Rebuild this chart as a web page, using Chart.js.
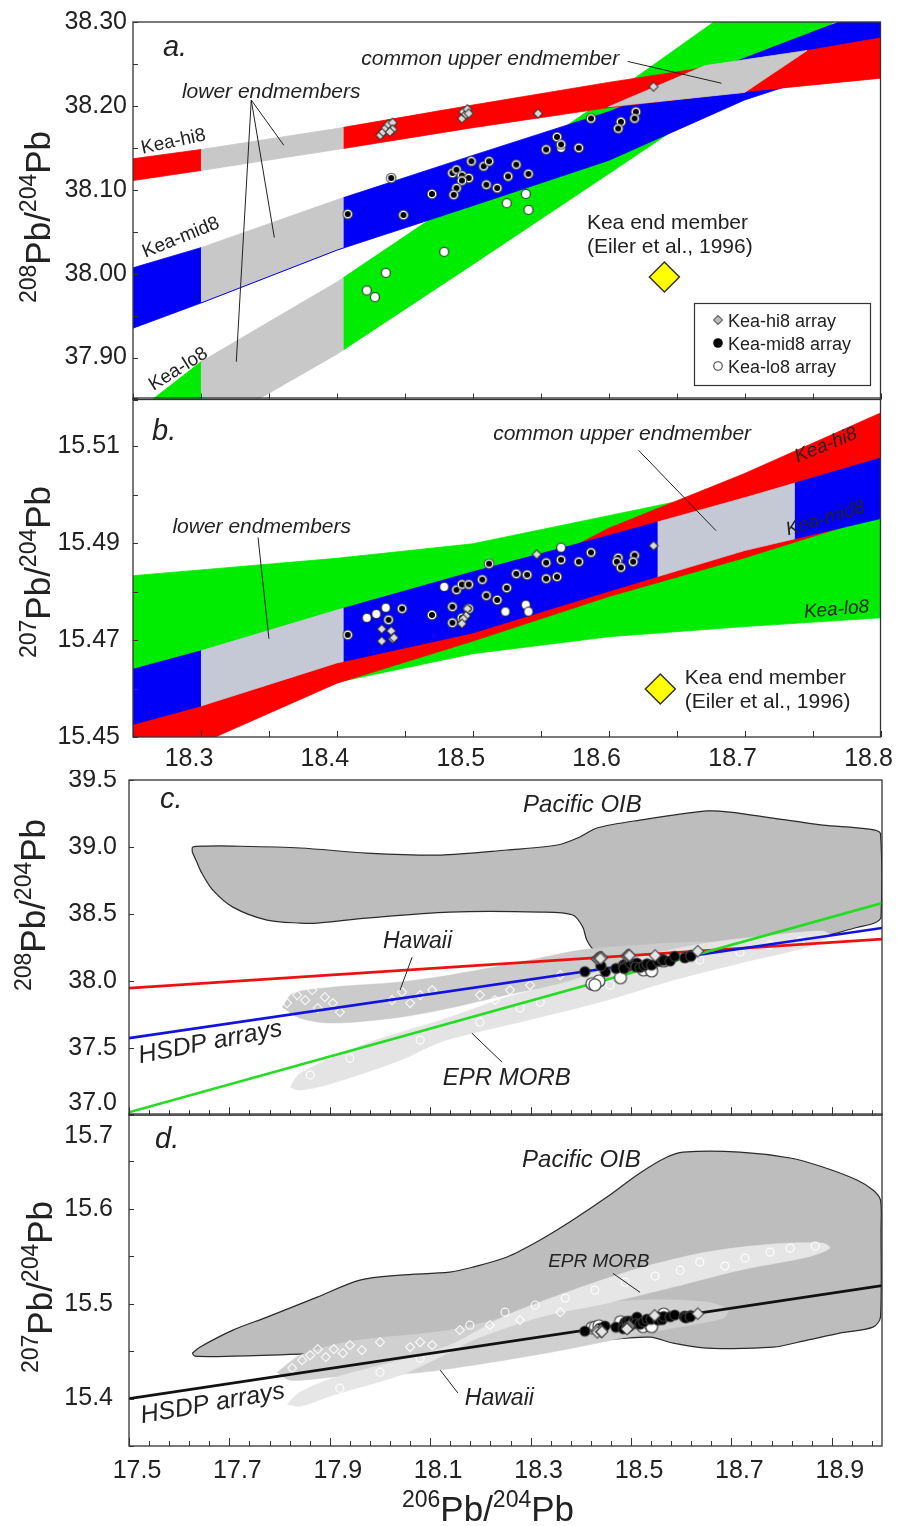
<!DOCTYPE html>
<html>
<head>
<meta charset="utf-8">
<script src="https://cdn.jsdelivr.net/npm/chart.js@4.4.1/dist/chart.umd.min.js"></script>
<style>
  html, body { margin: 0; padding: 0; background: #fff; }
  body { position: relative; width: 897px; height: 1526px; overflow: hidden; }
  canvas { position: absolute; left: 0; }
</style>
</head>
<body>
<canvas id="pa" width="897" height="416" style="top:0px"></canvas>
<canvas id="pb" width="897" height="402" style="top:378px"></canvas>
<canvas id="pc" width="897" height="358" style="top:770px"></canvas>
<canvas id="pd" width="897" height="422" style="top:1104px"></canvas>
<script>
// ---- regression bands of the three HSDP Kea arrays (panels a, b) ----
const bandX = [18.25, 18.30, 18.40, 18.50, 18.60, 18.70, 18.80];

const hi8Up208  = [38.137, 38.148, 38.173, 38.201, 38.228, 38.253, 38.281];
const hi8Lo208  = [38.111, 38.123, 38.148, 38.174, 38.198, 38.217, 38.233];
const mid8Up208 = [38.007, 38.031, 38.088, 38.141, 38.193, 38.257, 38.319];
const mid8Lo208 = [37.935, 37.965, 38.028, 38.081, 38.135, 38.207, 38.260];
const lo8Up208  = [37.832, 37.895, 37.990, 38.099, 38.211, 38.326, 38.440];
const lo8Lo208  = [37.761, 37.811, 37.904, 38.011, 38.119, 38.228, 38.337];

const hi8Up207  = [15.4535, 15.4572, 15.4670, 15.4785, 15.4931, 15.5044, 15.5169];
const hi8Lo207  = [15.4425, 15.4487, 15.4611, 15.4698, 15.4790, 15.4870, 15.4958];
const mid8Up207 = [15.4640, 15.4678, 15.4762, 15.4841, 15.4916, 15.4994, 15.5076];
const mid8Lo207 = [15.4526, 15.4564, 15.4653, 15.4715, 15.4801, 15.4885, 15.4951];
const lo8Up207  = [15.4833, 15.4845, 15.4869, 15.4899, 15.4957, 15.5015, 15.5085];
const lo8Lo207  = [15.4510, 15.4550, 15.4613, 15.4672, 15.4707, 15.4728, 15.4746];

// x ranges of the endmember segments
const lowerEndX = [18.30, 18.405];
const upperEndX207 = [18.636, 18.737];
const upperEnd208 = [[18.600, 38.199], [18.671, 38.248], [18.746, 38.266], [18.700, 38.216]];

// Kea end member (Eiler et al., 1996)
const keaEnd208 = [[18.641, 37.996]];
const keaEnd207 = [[18.638, 15.4599]];

// ---- HSDP samples: [206Pb/204Pb, 208Pb/204Pb] and [206Pb/204Pb, 207Pb/204Pb] ----
const hi8Pb208 = [[18.432,38.165],[18.434,38.169],[18.436,38.174],[18.438,38.178],[18.441,38.180],[18.441,38.172],[18.439,38.169],
  [18.492,38.185],[18.493,38.193],[18.495,38.190],[18.496,38.196],[18.497,38.191],[18.548,38.191],[18.633,38.223]];
const mid8Pb208 = [[18.408,38.071],[18.449,38.070],[18.440,38.114],[18.470,38.095],[18.485,38.120],[18.488,38.124],[18.492,38.117],
  [18.497,38.114],[18.492,38.111],[18.488,38.102],[18.486,38.094],[18.499,38.134],[18.508,38.128],[18.512,38.134],[18.510,38.106],
  [18.518,38.102],[18.526,38.116],[18.532,38.130],[18.541,38.119],[18.554,38.148],[18.562,38.163],[18.565,38.154],[18.578,38.150],
  [18.587,38.185],[18.609,38.181],[18.607,38.173],[18.620,38.193],[18.619,38.185]];
const lo8Pb208 = [[18.479,38.026],[18.436,38.001],[18.422,37.980],[18.428,37.972],[18.525,38.084],[18.539,38.095],[18.541,38.076],[18.565,38.150]];

const hi8Pb207 = [[18.433,15.4723],[18.440,15.4719],[18.433,15.4698],[18.441,15.4703],[18.442,15.4705],[18.496,15.4765],[18.495,15.4750],
  [18.493,15.4744],[18.492,15.4734],[18.547,15.4877],[18.633,15.4895]];
const mid8Pb207 = [[18.408,15.4711],[18.438,15.4742],[18.448,15.4765],[18.470,15.4752],[18.485,15.4769],[18.488,15.4804],[18.492,15.4815],
  [18.497,15.4815],[18.485,15.4736],[18.492,15.4746],[18.497,15.4765],[18.507,15.4825],[18.512,15.4858],[18.510,15.4792],[18.518,15.4783],
  [18.525,15.4808],[18.532,15.4837],[18.540,15.4835],[18.554,15.4860],[18.554,15.4827],[18.562,15.4831],[18.565,15.4866],[18.578,15.4862],
  [18.587,15.4881],[18.607,15.4870],[18.606,15.4862],[18.609,15.4850],[18.619,15.4875],[18.618,15.4862]];
const lo8Pb207 = [[18.422,15.4746],[18.429,15.4754],[18.436,15.4767],[18.479,15.4810],[18.524,15.4759],[18.539,15.4773],[18.541,15.4759],[18.565,15.4891]];

// ---- HSDP array lines (panels c, d) ----
const hsdpX = [17.5, 19.0];
const hsdpHi208 = [37.948, 38.313];
const hsdpMid208 = [37.575, 38.396];
const hsdpLo208 = [37.022, 38.582];
const hsdp207 = [15.400, 15.519];

// ---- reference fields ----
const oib208 = [[17.626,38.963],[17.627,39.000],[17.655,39.007],[17.707,39.007],[17.841,38.993],[17.974,38.955],[18.120,38.940],
  [18.253,38.978],[18.353,39.015],[18.398,39.075],[18.432,39.142],[18.518,39.201],[18.651,39.269],[18.697,39.261],[18.783,39.216],
  [18.882,39.164],[18.970,39.136],[18.997,39.100],[18.998,38.478],[18.985,38.433],[18.950,38.400],[18.880,38.330],[18.837,38.300],
  [18.677,38.260],[18.518,38.220],[18.428,38.231],[18.412,38.306],[18.404,38.403],[18.384,38.493],[18.319,38.515],[18.139,38.515],
  [17.974,38.470],[17.875,38.433],[17.841,38.433],[17.775,38.455],[17.707,38.552],[17.667,38.679],[17.645,38.806],[17.635,38.888]];
const hawaii208 = [[17.805,37.806],[17.827,37.910],[17.906,37.955],[18.040,37.993],[18.139,38.045],[18.279,38.142],[18.398,38.231],
  [18.518,38.269],[18.637,38.291],[18.727,38.276],[18.733,38.216],[18.637,38.142],[18.518,38.067],[18.398,37.993],[18.279,37.918],
  [18.139,37.799],[18.040,37.731],[17.906,37.687],[17.841,37.724]];
const epr208 = [[17.821,37.209],[17.841,37.313],[17.974,37.537],[18.139,37.731],[18.253,37.881],[18.384,38.007],[18.518,38.179],
  [18.651,38.284],[18.783,38.343],[18.882,38.373],[18.896,38.336],[18.851,38.254],[18.717,38.134],[18.584,38.007],[18.452,37.858],
  [18.319,37.731],[18.185,37.612],[18.120,37.545],[18.040,37.410],[17.906,37.239],[17.841,37.187]];
const hawaiiPts208 = [[17.815,37.836],[17.835,37.896],[17.851,37.858],[17.865,37.933],[17.876,37.799],[17.890,37.881],[17.906,37.836],
  [17.920,37.769],[18.024,37.858],[18.044,37.918],[18.060,37.836],[18.080,37.896],[18.104,37.933],[18.199,37.896],[18.229,37.858],
  [18.259,37.933],[18.299,37.970],[18.359,38.045]];
const eprPts208 = [[17.861,37.299],[17.940,37.425],[18.080,37.560],[18.199,37.694],[18.279,37.799],[18.319,37.843],[18.458,37.970],
  [18.538,38.067],[18.637,38.157],[18.717,38.216],[18.777,38.269],[18.837,38.299]];

const oib207 = [[17.626,15.4479],[17.641,15.4542],[17.707,15.4722],[17.775,15.4859],[17.875,15.5070],[17.960,15.5249],[18.040,15.5302],
  [18.139,15.5333],[18.185,15.5386],[18.253,15.5492],[18.319,15.5671],[18.384,15.5882],[18.452,15.6124],[18.518,15.6378],[18.572,15.6546],
  [18.604,15.6599],[18.717,15.6599],[18.817,15.6536],[18.882,15.6441],[18.950,15.6304],[18.982,15.6198],[18.997,15.6093],[18.998,15.5776],
  [18.997,15.4859],[18.982,15.4753],[18.916,15.4690],[18.851,15.4616],[18.783,15.4542],[18.651,15.4532],[18.584,15.4584],[18.538,15.4648],
  [18.438,15.4616],[18.239,15.4563],[18.040,15.4511],[17.841,15.4468],[17.707,15.4447],[17.631,15.4447]];
const hawaii207 = [[17.795,15.4278],[17.841,15.4458],[17.906,15.4563],[17.974,15.4627],[18.074,15.4679],[18.139,15.4722],[18.319,15.4932],
  [18.518,15.5038],[18.651,15.5017],[18.693,15.4932],[18.683,15.4848],[18.584,15.4743],[18.452,15.4605],[18.319,15.4468],[18.120,15.4300],
  [18.040,15.4257],[17.906,15.4226],[17.821,15.4194]];
const epr207 = [[17.815,15.3941],[17.841,15.4068],[17.906,15.4215],[18.040,15.4405],[18.139,15.4563],[18.253,15.4880],[18.384,15.5143],
  [18.518,15.5376],[18.651,15.5544],[18.783,15.5629],[18.882,15.5639],[18.896,15.5586],[18.851,15.5492],[18.717,15.5354],[18.584,15.5175],
  [18.452,15.5006],[18.319,15.4859],[18.185,15.4616],[18.139,15.4489],[18.040,15.4247],[17.906,15.4036],[17.841,15.3920]];
const hawaiiPts207 = [[17.825,15.4321],[17.845,15.4405],[17.861,15.4458],[17.876,15.4521],[17.892,15.4437],[17.908,15.4521],[17.926,15.4479],
  [17.940,15.4563],[17.964,15.4511],[18.000,15.4595],[18.060,15.4542],[18.080,15.4595],[18.104,15.4563],[18.159,15.4722],[18.219,15.4774],
  [18.279,15.4827],[18.359,15.4911]];
const eprPts207 = [[17.920,15.4110],[18.000,15.4278],[18.080,15.4426],[18.179,15.4774],[18.249,15.4911],[18.309,15.4985],[18.369,15.5059],
  [18.428,15.5143],[18.488,15.5228],[18.548,15.5291],[18.598,15.5354],[18.637,15.5439],[18.687,15.5397],[18.727,15.5481],[18.777,15.5544],
  [18.817,15.5586],[18.867,15.5608]];

// ---- axis ticks and labels ----
const xTicksAB = [18.25, 18.30, 18.35, 18.40, 18.45, 18.50, 18.55, 18.60, 18.65, 18.70, 18.75, 18.80];
const xLabelsAB = [18.3, 18.4, 18.5, 18.6, 18.7, 18.8];
const yTicksA = [37.85, 37.90, 37.95, 38.00, 38.05, 38.10, 38.15, 38.20, 38.25, 38.30];
const yLabelsA = [37.90, 38.00, 38.10, 38.20, 38.30];
const yTicksB = [15.45, 15.46, 15.47, 15.48, 15.49, 15.50, 15.51, 15.52];
const yLabelsB = [15.45, 15.47, 15.49, 15.51];
const xTicksCD = Array.from({length: 38}, (_, i) => +(17.5 + 0.04 * i).toFixed(2));
const xLabelsCD = [17.5, 17.7, 17.9, 18.1, 18.3, 18.5, 18.7, 18.9];
const yTicksC = [37.0, 37.5, 38.0, 38.5, 39.0, 39.5];
const yLabelsC = [37.5, 38.0, 38.5, 39.0, 39.5];
const yTicksD = [15.35, 15.40, 15.45, 15.50, 15.55, 15.60, 15.65, 15.70];
const yLabelsD = [15.4, 15.5, 15.6];

const FONT = '"Liberation Sans", Arial, Helvetica, sans-serif';
const INK = '#222';
const RED = '#ff0000', BLUE = '#0000f8', GREEN = '#00ec00';
const GRAY_A = '#c8c8c8', GRAY_B = '#c5c8d5';

// ---- helpers ----
const pts = arr => arr.map(([x, y]) => ({x, y}));
const closed = arr => pts([...arr, arr[0]]);
const zip = (xs, ys) => xs.map((x, i) => ({x, y: ys[i]}));
const has = (list, v) => list.some(l => Math.abs(l - v) < 1e-6);

function interp(xs, ys, x) {
  for (let i = 0; i < xs.length - 2; i++) {
    if (x <= xs[i + 1]) return ys[i] + (x - xs[i]) / (xs[i + 1] - xs[i]) * (ys[i + 1] - ys[i]);
  }
  const n = xs.length - 1;
  return ys[n - 1] + (x - xs[n - 1]) / (xs[n] - xs[n - 1]) * (ys[n] - ys[n - 1]);
}
function bandPoly(up, lo, x0, x1) {
  const xs = [x0, ...bandX.filter(x => x > x0 + 1e-9 && x < x1 - 1e-9), x1];
  return [...xs.map(x => ({x, y: interp(bandX, up, x)})),
          ...xs.slice().reverse().map(x => ({x, y: interp(bandX, lo, x)}))];
}
function edge(ys, x0, x1) {
  const xs = [x0, ...bandX.filter(x => x > x0 && x < x1), x1];
  return xs.map(x => ({x, y: interp(bandX, ys, x)}));
}
function area(points, color, stroke, width, tension) {
  return {data: points, showLine: true, fill: 'shape', backgroundColor: color,
    borderColor: stroke || color, borderWidth: width || 0.8, pointRadius: 0, tension: tension || 0};
}
function trace(points, color, width) {
  return {data: points, showLine: true, fill: false, borderColor: color, borderWidth: width, pointRadius: 0};
}
function dots(arr, style, extra) {
  return Object.assign({data: pts(arr), showLine: false, pointStyle: style, pointRadius: 6, pointHoverRadius: 6}, extra || {});
}
function layered(list) {
  list.forEach((d, i) => { d.order = list.length - i; });
  return list;
}

// symbol sprites
function sprite(size, draw) {
  const c = document.createElement('canvas');
  c.width = c.height = size;
  const g = c.getContext('2d');
  g.translate(size / 2, size / 2);
  draw(g);
  return c;
}
function disc(g, r, color) { g.beginPath(); g.arc(0, 0, r, 0, Math.PI * 2); g.fillStyle = color; g.fill(); }
function diamond(g, r, color) {
  g.beginPath(); g.moveTo(-r, 0); g.lineTo(0, -r); g.lineTo(r, 0); g.lineTo(0, r); g.closePath();
  g.fillStyle = color; g.fill();
}
const midSmall = sprite(12, g => { disc(g, 5.3, '#4a4a4a'); disc(g, 4.3, '#fff'); disc(g, 3.0, '#000'); });
const loSmall  = sprite(12, g => { disc(g, 5.0, '#333'); disc(g, 3.9, '#fff'); });
const hiSmall  = sprite(12, g => { diamond(g, 5.2, '#333'); diamond(g, 3.8, '#dadada'); });
const midLarge = sprite(14, g => { disc(g, 5.6, '#444'); disc(g, 4.6, '#000'); });
const loLarge  = sprite(16, g => { disc(g, 6.6, '#444'); disc(g, 5.4, '#fff'); });
const hiLarge  = sprite(16, g => { diamond(g, 6.6, '#444'); diamond(g, 5.0, '#e4e4e4'); });
const hiKey  = sprite(12, g => { diamond(g, 5.2, '#555'); diamond(g, 3.8, '#bbb'); });
const midKey = sprite(12, g => { disc(g, 4.8, '#000'); });
const loKey  = sprite(12, g => { disc(g, 4.8, '#444'); disc(g, 3.7, '#fff'); });

// Pb isotope ratio title with superscript mass numbers
function isoTitle(ctx, iso, cx, cy, vertical) {
  const parts = [[iso, 23, -14], ['Pb', 35, 0], ['/', 35, 0], ['204', 23, -14], ['Pb', 35, 0]];
  let w = 0;
  parts.forEach(p => { ctx.font = p[1] + 'px ' + FONT; p.push(ctx.measureText(p[0]).width); w += p[3]; });
  ctx.save();
  ctx.translate(cx, cy);
  if (vertical) ctx.rotate(-Math.PI / 2);
  ctx.fillStyle = INK; ctx.textAlign = 'left'; ctx.textBaseline = 'alphabetic';
  let pos = -w / 2;
  parts.forEach(p => { ctx.font = p[1] + 'px ' + FONT; ctx.fillText(p[0], pos, p[2]); pos += p[3]; });
  ctx.restore();
}

function drawKey(ctx, L) {
  ctx.fillStyle = '#fff'; ctx.fillRect(L.x, L.y, L.w, L.h);
  ctx.strokeStyle = '#333'; ctx.lineWidth = 1.2; ctx.strokeRect(L.x + 0.5, L.y + 0.5, L.w, L.h);
  ctx.font = '18px ' + FONT; ctx.fillStyle = INK; ctx.textAlign = 'left'; ctx.textBaseline = 'alphabetic';
  L.items.forEach(([img, label], i) => {
    const cy = L.y + 17 + i * 23;
    ctx.drawImage(img, L.x + 24 - img.width / 2, cy - img.height / 2);
    ctx.fillText(label, L.x + 34, cy + 7);
  });
}

// frame, inward ticks, labels, leader lines, titles
function decor(d) {
  return {
    id: 'decor',
    afterDraw(chart) {
      const {ctx, chartArea: a, scales: {x, y}} = chart;
      const X = v => x.getPixelForValue(v), Y = v => y.getPixelForValue(v);
      ctx.save();
      ctx.strokeStyle = '#333'; ctx.lineWidth = 1;
      ctx.beginPath();
      d.xTicks.forEach(([v, len]) => { const p = Math.round(X(v)) + 0.5; ctx.moveTo(p, a.bottom); ctx.lineTo(p, a.bottom - len); });
      d.yTicks.forEach(([v, len]) => { const p = Math.round(Y(v)) + 0.5; ctx.moveTo(a.left, p); ctx.lineTo(a.left + len, p); });
      ctx.stroke();
      ctx.lineWidth = 1.3;
      ctx.strokeRect(a.left, a.top, a.width, a.height);
      ctx.lineWidth = 1; ctx.strokeStyle = '#222';
      ctx.beginPath();
      (d.leaders || []).forEach(([x1, y1, x2, y2]) => { ctx.moveTo(X(x1), Y(y1)); ctx.lineTo(X(x2), Y(y2)); });
      ctx.stroke();
      (d.texts || []).forEach(t => {
        ctx.save();
        ctx.translate(X(t.x) + (t.dx || 0), Y(t.y) + (t.dy || 0));
        ctx.rotate(-(t.rot || 0) * Math.PI / 180);
        ctx.font = t.font + ' ' + FONT;
        ctx.fillStyle = t.color || INK;
        ctx.textAlign = t.align || 'left';
        ctx.textBaseline = t.base || 'alphabetic';
        ctx.fillText(t.t, 0, 0);
        ctx.restore();
      });
      if (d.key) drawKey(ctx, d.key);
      if (d.yTitle) isoTitle(ctx, d.yTitle[0], d.yTitle[1], d.yTitle[2], true);
      if (d.xTitle) isoTitle(ctx, d.xTitle[0], d.xTitle[1], d.xTitle[2], false);
      ctx.restore();
    }
  };
}

function makeChart(id, c) {
  const tickOpts = (labels, dec, pad, off) => ({
    font: {family: FONT, size: 25}, color: INK, padding: pad, labelOffset: off || 0,
    autoSkip: false, maxRotation: 0, minRotation: 0,
    callback: v => has(labels, v) ? v.toFixed(dec) : ''
  });
  const chart = new Chart(document.getElementById(id), {
    type: 'scatter',
    data: {datasets: layered(c.layers)},
    options: {
      responsive: false, animation: false, devicePixelRatio: 1, events: [],
      layout: {padding: c.padding},
      plugins: {legend: {display: false}, tooltip: {enabled: false}},
      scales: {
        x: {type: 'linear', position: 'bottom', min: c.x[0], max: c.x[1], display: c.xShow,
          grid: {display: false, drawTicks: false}, border: {display: false},
          afterBuildTicks: s => { s.ticks = c.xTicks.map(v => ({value: v})); },
          afterFit: s => { s.height = c.xHeight; s.paddingLeft = 0; s.paddingRight = 0; },
          ticks: tickOpts(c.xLabels, 1, c.xPad, c.xOff)},
        y: {type: 'linear', position: 'left', min: c.y[0], max: c.y[1],
          grid: {display: false, drawTicks: false}, border: {display: false},
          afterBuildTicks: s => { s.ticks = c.yTicks.map(v => ({value: v})); },
          afterFit: s => { s.width = c.yWidth; s.paddingTop = 0; s.paddingBottom = 0; },
          ticks: tickOpts(c.yLabels, c.yDec, c.yPad, 0)}
      }
    },
    plugins: [decor(c.decor)]
  });
  // nudge the padding so the plot frame lands on the intended box
  const a = chart.chartArea, p = c.padding, want = c.frame;
  const fixed = {
    top: p.top + (want.top - a.top),
    bottom: p.bottom + (a.bottom - want.bottom),
    right: p.right + (a.right - want.right),
    left: p.left
  };
  if (fixed.top !== p.top || fixed.bottom !== p.bottom || fixed.right !== p.right) {
    chart.options.layout.padding = fixed;
    chart.update();
  }
  return chart;
}

const tickList = (vals, len, labels, longLen) => vals.map(v => [v, labels && has(labels, v) ? longLen : len]);

// ---- a. 208Pb/204Pb vs 206Pb/204Pb, Kea arrays ----
makeChart('pa', {
  x: [18.25, 18.80], y: [37.85, 38.30], xShow: false, xHeight: 0,
  xTicks: xTicksAB, xLabels: xLabelsAB, yTicks: yTicksA, yLabels: yLabelsA, yDec: 2,
  yWidth: 133, yPad: 6, padding: {top: 22, right: 14, bottom: 2, left: 0},
  frame: {top: 22, bottom: 398, right: 883},
  layers: [
    area(bandPoly(lo8Up208, lo8Lo208, 18.25, lowerEndX[0]), GREEN),
    area(bandPoly(lo8Up208, lo8Lo208, lowerEndX[0], lowerEndX[1]), GRAY_A),
    area(bandPoly(lo8Up208, lo8Lo208, lowerEndX[1], 18.80), GREEN),
    area(bandPoly(mid8Up208, mid8Lo208, 18.25, lowerEndX[0]), BLUE),
    area(bandPoly(mid8Up208, mid8Lo208, lowerEndX[0], lowerEndX[1]), GRAY_A),
    trace(edge(mid8Lo208, lowerEndX[0], lowerEndX[1]), BLUE, 1),
    area(bandPoly(mid8Up208, mid8Lo208, lowerEndX[1], 18.80), BLUE),
    area(bandPoly(hi8Up208, hi8Lo208, 18.25, lowerEndX[0]), RED),
    area(bandPoly(hi8Up208, hi8Lo208, lowerEndX[0], lowerEndX[1]), GRAY_A),
    area(bandPoly(hi8Up208, hi8Lo208, lowerEndX[1], 18.80), RED),
    area(closed(upperEnd208), GRAY_A),
    dots(keaEnd208, 'rectRot', {pointRadius: 15, backgroundColor: '#ffff00', borderColor: '#333', borderWidth: 1.5}),
    dots(lo8Pb208, loSmall),
    dots(mid8Pb208, midSmall),
    dots(hi8Pb208, hiSmall)
  ],
  decor: {
    xTicks: tickList(xTicksAB, 6), yTicks: tickList(yTicksA, 5),
    leaders: [[18.337, 38.207, 18.361, 38.153], [18.337, 38.207, 18.354, 38.043], [18.337, 38.207, 18.326, 37.895],
              [18.614, 38.253, 18.683, 38.227]],
    texts: [
      {t: 'a.', x: 18.272, y: 38.260, font: 'italic 29px'},
      {t: 'common upper endmember', x: 18.418, y: 38.2485, font: 'italic 21px'},
      {t: 'lower endmembers', x: 18.286, y: 38.210, font: 'italic 21px'},
      {t: 'Kea-hi8', x: 18.257, y: 38.143, font: '19px', rot: 12},
      {t: 'Kea-mid8', x: 18.259, y: 38.019, font: '19px', rot: 22},
      {t: 'Kea-lo8', x: 18.265, y: 37.860, font: '19px', rot: 32},
      {t: 'Kea end member', x: 18.584, y: 38.053, font: '21px'},
      {t: '(Eiler et al., 1996)', x: 18.584, y: 38.025, font: '21px'}
    ],
    key: {x: 694, y: 303, w: 176, h: 82,
      items: [[hiKey, 'Kea-hi8 array'], [midKey, 'Kea-mid8 array'], [loKey, 'Kea-lo8 array']]},
    yTitle: ['208', 50, 217]
  }
});

// ---- b. 207Pb/204Pb vs 206Pb/204Pb, Kea arrays ----
makeChart('pb', {
  x: [18.25, 18.80], y: [15.45, 15.52], xShow: true, xHeight: 43, xPad: 7, xOff: -12,
  xTicks: xTicksAB, xLabels: xLabelsAB, yTicks: yTicksB, yLabels: yLabelsB, yDec: 2,
  yWidth: 133, yPad: 13, padding: {top: 20, right: 14, bottom: 0, left: 0},
  frame: {top: 20, bottom: 359, right: 883},
  layers: [
    area(bandPoly(lo8Up207, lo8Lo207, 18.25, 18.80), GREEN),
    area(bandPoly(hi8Up207, hi8Lo207, 18.25, 18.80), RED),
    area(bandPoly(mid8Up207, mid8Lo207, 18.25, lowerEndX[0]), BLUE),
    area(bandPoly(mid8Up207, mid8Lo207, lowerEndX[0], lowerEndX[1]), GRAY_B),
    area(bandPoly(mid8Up207, mid8Lo207, lowerEndX[1], upperEndX207[0]), BLUE),
    area(bandPoly(mid8Up207, mid8Lo207, upperEndX207[0], upperEndX207[1]), GRAY_B),
    area(bandPoly(mid8Up207, mid8Lo207, upperEndX207[1], 18.80), BLUE),
    dots(keaEnd207, 'rectRot', {pointRadius: 15, backgroundColor: '#ffff00', borderColor: '#333', borderWidth: 1.5}),
    dots(lo8Pb207, loSmall),
    dots(mid8Pb207, midSmall),
    dots(hi8Pb207, hiSmall)
  ],
  decor: {
    xTicks: tickList(xTicksAB, 6), yTicks: tickList(yTicksB, 5),
    leaders: [[18.622, 15.5092, 18.679, 15.4926], [18.342, 15.4912, 18.350, 15.4703]],
    texts: [
      {t: 'b.', x: 18.264, y: 15.5113, font: 'italic 29px'},
      {t: 'common upper endmember', x: 18.515, y: 15.5113, font: 'italic 21px'},
      {t: 'lower endmembers', x: 18.279, y: 15.4922, font: 'italic 21px'},
      {t: 'Kea-hi8', x: 18.739, y: 15.5067, font: 'italic 19px', rot: 22},
      {t: 'Kea-mid8', x: 18.732, y: 15.4916, font: 'italic 19px', rot: 17},
      {t: 'Kea-lo8', x: 18.744, y: 15.4746, font: 'italic 19px', rot: 5},
      {t: 'Kea end member', x: 18.656, y: 15.4609, font: '21px'},
      {t: '(Eiler et al., 1996)', x: 18.656, y: 15.4560, font: '21px'}
    ],
    yTitle: ['207', 50, 194]
  }
});

// ---- c. 208Pb/204Pb, Pacific OIB / Hawaii / EPR MORB ----
makeChart('pc', {
  x: [17.5, 19.0], y: [37.0, 39.5], xShow: false, xHeight: 0,
  xTicks: xTicksCD, xLabels: xLabelsCD, yTicks: yTicksC, yLabels: yLabelsC, yDec: 1,
  yWidth: 129, yPad: 12, padding: {top: 10, right: 15, bottom: 6, left: 0},
  frame: {top: 10, bottom: 344, right: 882},
  layers: [
    area(closed(oib208), '#bdbdbd', '#2a2a2a', 1.2, 0.3),
    area(closed(hawaii208), '#cbcbcb', '#cbcbcb', 0.5, 0.3),
    area(closed(epr208), '#e4e4e4', '#e4e4e4', 0.5, 0.3),
    dots(hawaiiPts208, 'rectRot', {pointRadius: 4.5, backgroundColor: 'rgba(0,0,0,0)', borderColor: 'rgba(255,255,255,0.85)', borderWidth: 1.2}),
    dots(eprPts208, 'circle', {pointRadius: 4, backgroundColor: 'rgba(0,0,0,0)', borderColor: 'rgba(255,255,255,0.9)', borderWidth: 1.2}),
    trace(zip(hsdpX, hsdpHi208), '#ee1111', 2.6),
    trace(zip(hsdpX, hsdpMid208), '#1212e0', 2.6),
    trace(zip(hsdpX, hsdpLo208), '#22dd22', 2.6),
    dots(lo8Pb208, loLarge),
    dots(mid8Pb208, midLarge),
    dots(hi8Pb208, hiLarge)
  ],
  decor: {
    xTicks: tickList(xTicksCD, 5, xLabelsCD, 8), yTicks: tickList(yTicksC, 5),
    leaders: [[18.064, 38.179, 18.040, 37.933], [18.183, 37.612, 18.243, 37.396]],
    texts: [
      {t: 'c.', x: 17.562, y: 39.291, font: 'italic 29px'},
      {t: 'Pacific OIB', x: 18.285, y: 39.261, font: 'italic 24px'},
      {t: 'Hawaii', x: 18.006, y: 38.246, font: 'italic 23px'},
      {t: 'HSDP arrays', x: 17.522, y: 37.388, font: 'italic 25px', rot: 11},
      {t: 'EPR MORB', x: 18.125, y: 37.224, font: 'italic 24px'},
      {t: '37.0', x: 17.5, y: 37.0, dx: -12, dy: -12, font: '25px', align: 'right', base: 'middle'}
    ],
    yTitle: ['208', 45, 135]
  }
});

// ---- d. 207Pb/204Pb, Pacific OIB / Hawaii / EPR MORB ----
makeChart('pd', {
  x: [17.5, 19.0], y: [15.35, 15.70], xShow: true, xHeight: 80, xPad: 10, xOff: 8,
  xTicks: xTicksCD, xLabels: xLabelsCD, yTicks: yTicksD, yLabels: yLabelsD, yDec: 1,
  yWidth: 129, yPad: 16, padding: {top: 10, right: 15, bottom: 0, left: 0},
  frame: {top: 10, bottom: 342, right: 882},
  layers: [
    area(closed(oib207), '#bdbdbd', '#2a2a2a', 1.2, 0.3),
    area(closed(hawaii207), '#d0d0d0', '#d0d0d0', 0.5, 0.3),
    area(closed(epr207), '#e6e6e6', '#e6e6e6', 0.5, 0.3),
    dots(hawaiiPts207, 'rectRot', {pointRadius: 4.5, backgroundColor: 'rgba(0,0,0,0)', borderColor: 'rgba(255,255,255,0.85)', borderWidth: 1.2}),
    dots(eprPts207, 'circle', {pointRadius: 4, backgroundColor: 'rgba(0,0,0,0)', borderColor: 'rgba(255,255,255,0.9)', borderWidth: 1.2}),
    trace(zip(hsdpX, hsdp207), '#111', 2.8),
    dots(lo8Pb207, loLarge),
    dots(mid8Pb207, midLarge),
    dots(hi8Pb207, hiLarge)
  ],
  decor: {
    xTicks: tickList(xTicksCD, 5, xLabelsCD, 8), yTicks: tickList(yTicksD, 5),
    leaders: [[18.464, 15.532, 18.518, 15.512], [18.120, 15.430, 18.155, 15.406]],
    texts: [
      {t: 'd.', x: 17.552, y: 15.664, font: 'italic 29px'},
      {t: 'Pacific OIB', x: 18.283, y: 15.644, font: 'italic 24px'},
      {t: 'EPR MORB', x: 18.335, y: 15.539, font: 'italic 19px'},
      {t: 'Hawaii', x: 18.169, y: 15.393, font: 'italic 23px'},
      {t: 'HSDP arrays', x: 17.526, y: 15.374, font: 'italic 25px', rot: 10},
      {t: '15.7', x: 17.5, y: 15.70, dx: -16, dy: 22, font: '25px', align: 'right', base: 'middle'}
    ],
    yTitle: ['207', 52, 183],
    xTitle: ['206', 488, 417]
  }
});
</script>
</body>
</html>
